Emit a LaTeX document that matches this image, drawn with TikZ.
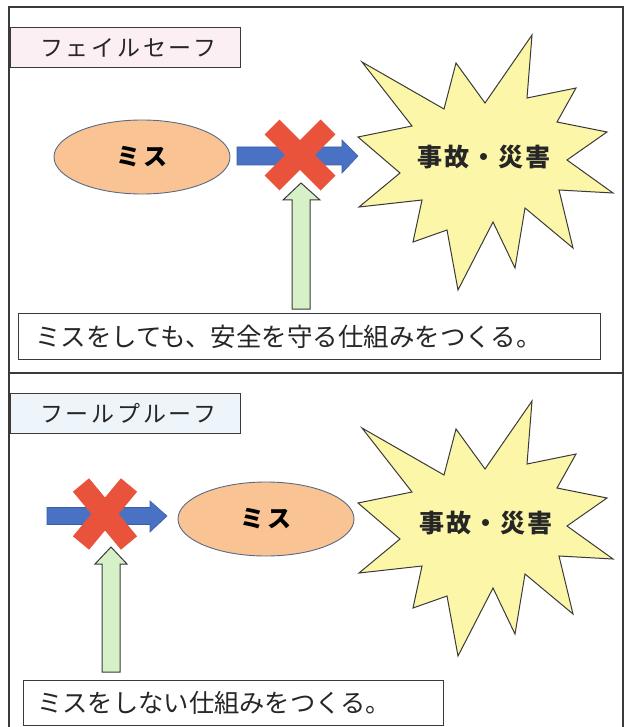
\documentclass[tikz,border=0pt]{standalone}
\usepackage{fontspec}
\setmainfont{Noto Sans CJK JP}
\usetikzlibrary{shapes.geometric}
\definecolor{framec}{HTML}{3A3A3A}
\definecolor{pinkfill}{HTML}{FCEFF4}
\definecolor{bluefill}{HTML}{EDF5FB}
\definecolor{ellfill}{HTML}{F9C393}
\definecolor{elldraw}{HTML}{5A6A86}
\definecolor{bluearrow}{HTML}{4A72C4}
\definecolor{bluedraw}{HTML}{3A5DA8}
\definecolor{redx}{HTML}{E9533B}
\definecolor{greenfill}{HTML}{D6F0C8}
\definecolor{burstfill}{HTML}{FBF6A8}
\tikzset{
  titlebox/.style={draw=framec, line width=1pt, rectangle, inner sep=0pt, minimum width=230pt, minimum height=40pt, anchor=north west},
  textbox/.style={draw=framec, line width=1pt, rectangle, inner sep=0pt, anchor=north west, fill=white},
  titletext/.style={anchor=west, inner sep=0pt, font=\fontsize{23pt}{27pt}\selectfont\addfontfeature{LetterSpace=12}, text=black!85},
  bodytext/.style={anchor=west, inner sep=0pt, text=black!85},
  misell/.style={ellipse, draw=elldraw, line width=0.9pt, fill=ellfill, minimum width=176pt, minimum height=74pt, inner sep=0pt, font=\fontsize{24pt}{28pt}\selectfont\bfseries\addfontfeature{LetterSpace=15}},
  burst/.style={draw=framec, line width=1pt, fill=burstfill, line join=miter},
  bursttext/.style={inner sep=0pt, font=\fontsize{25pt}{29pt}\selectfont\bfseries\addfontfeature{LetterSpace=8}, text=black!85},
  bluearr/.style={fill=bluearrow, draw=bluedraw, line width=0.6pt},
  greenarr/.style={fill=greenfill, draw=framec, line width=1pt},
  xarm/.style={draw=redx, line width=21pt, line cap=butt},
}
\begin{document}
\begin{tikzpicture}[x=1pt,y=-1pt]
\useasboundingbox (0,0) rectangle (624,727);
% outer frame and divider
\draw[framec, line width=1.4pt] (9,7) rectangle (623,730);
\draw[framec, line width=1.4pt] (9,373) -- (623,373);

% ===== Panel 1: fail safe =====
\node (t1) [titlebox, fill=pinkfill] at (10,27) {};
\node (t1txt) [titletext] at ([xshift=30pt]t1.west) {フェイルセーフ};

\node (m1) [misell] at (142,157) {ミス};

\def\burstpath{(532,35) -- (527,98) -- (576,88) -- (557,122) -- (607,132) -- (567,160) -- (613,193) -- (559,190) -- (573,248) -- (525,208) -- (515,268) -- (493,222) -- (458,290) -- (447,230) -- (413,242) -- (422,200) -- (359,207) -- (400,173) -- (358,137) -- (412,126) -- (362,62) -- (444,109) -- (456,63) -- (485,103) -- cycle}
\draw[burst] \burstpath;
\node (b1) [bursttext] at (484,157) {事故・災害};

% blue arrow
\coordinate (ba1) at (237,156);
\draw[bluearr] (ba1) ++(0,-9) -- ++(105,0) -- ++(0,-7) -- (358,156) -- (342,173) -- (342,165) -- (237,165) -- cycle;
% green arrow
\coordinate (ga1) at (301,183);
\draw[greenarr] (ga1) -- (320,200) -- (310,200) -- (310,309) -- (292,309) -- (292,200) -- (283,200) -- cycle;
% red X
\coordinate (x1) at (300,155);
\draw[xarm] ([shift={(-28,-28)}]x1) -- ([shift={(28,28)}]x1);
\draw[xarm] ([shift={(-28,28)}]x1) -- ([shift={(28,-28)}]x1);

\node (s1) [textbox, minimum width=582pt, minimum height=46pt] at (18,313) {};
\node (s1txt) [bodytext, font=\fontsize{25.5pt}{30pt}\selectfont] at (35,337) {ミスをしても、安全を守る仕組みをつくる。};

% ===== Panel 2: fool proof =====
\node (t2) [titlebox, fill=bluefill] at (10,393) {};
\node (t2txt) [titletext] at ([xshift=30pt]t2.west) {フールプルーフ};

\node (m2) [misell] at (266,519) {ミス};

\begin{scope}[shift={(0,366)}]
\draw[burst] \burstpath;
\end{scope}
\node (b2) [bursttext] at (486,523) {事故・災害};

% blue arrow
\coordinate (ba2) at (47,516);
\draw[bluearr] (ba2) ++(0,-8.5) -- (150,507.5) -- (150,501) -- (167,516) -- (150,532) -- (150,524.5) -- (47,524.5) -- cycle;
% green arrow
\coordinate (ga2) at (111,547);
\draw[greenarr] (ga2) -- (127,564) -- (120,564) -- (120,672) -- (102,672) -- (102,564) -- (95,564) -- cycle;
% red X
\coordinate (x2) at (105,514);
\draw[xarm] ([shift={(-24,-29)}]x2) -- ([shift={(24,29)}]x2);
\draw[xarm] ([shift={(-24,29)}]x2) -- ([shift={(24,-29)}]x2);

\node (s2) [textbox, minimum width=420pt, minimum height=45pt] at (23,680) {};
\node (s2txt) [bodytext, font=\fontsize{25.3pt}{30pt}\selectfont] at (37,703) {ミスをしない仕組みをつくる。};
\end{tikzpicture}
\end{document}
